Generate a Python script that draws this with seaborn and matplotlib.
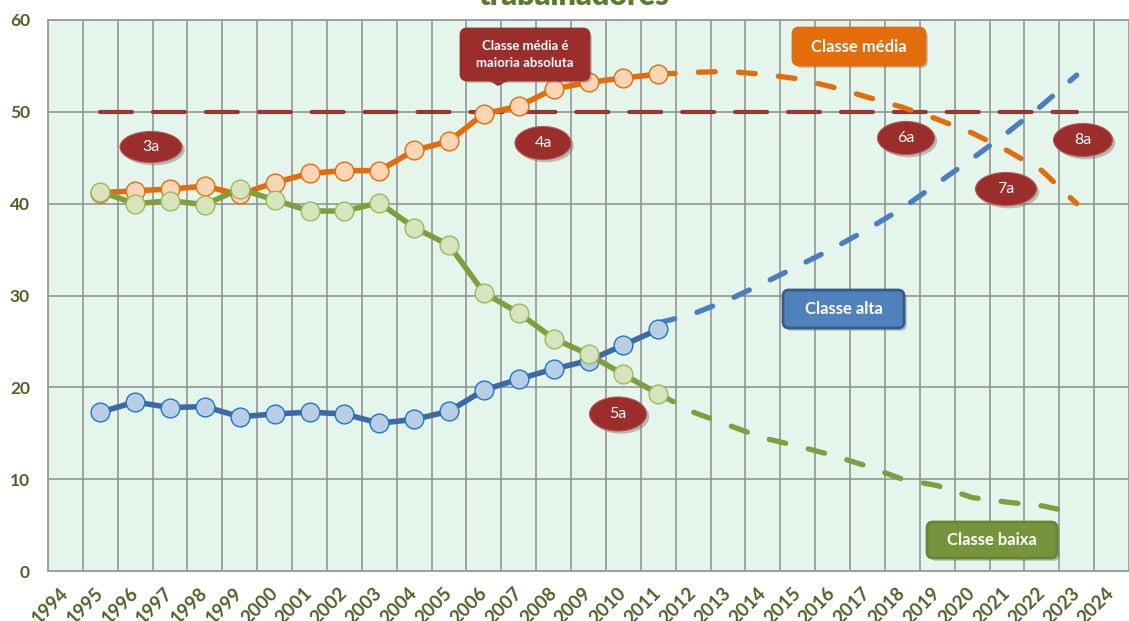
import matplotlib
matplotlib.use("Agg")
import matplotlib.pyplot as plt
import matplotlib.patheffects as pe
from matplotlib.patches import Ellipse, FancyBboxPatch, Polygon
from matplotlib.transforms import IdentityTransform
import pandas as pd
import seaborn as sns

# Categories (x axis) and series values
all_years = [1994, 1995, 1996, 1997, 1998, 1999, 2000, 2001, 2002, 2003, 2004,
             2005, 2006, 2007, 2008, 2009, 2010, 2011, 2012, 2013, 2014, 2015,
             2016, 2017, 2018, 2019, 2020, 2021, 2022, 2023, 2024]

years_hist = [1995, 1996, 1997, 1998, 1999, 2000, 2001, 2002, 2003,
              2004, 2005, 2006, 2007, 2008, 2009, 2010, 2011]
media_hist = [41.2, 41.4, 41.6, 41.9, 41.0, 42.3, 43.3, 43.6, 43.6,
              45.8, 46.8, 49.8, 50.6, 52.5, 53.2, 53.7, 54.1]
baixa_hist = [41.3, 40.0, 40.3, 39.9, 41.6, 40.4, 39.2, 39.2, 40.1,
              37.4, 35.5, 30.3, 28.1, 25.3, 23.6, 21.4, 19.3]
alta_hist = [17.3, 18.4, 17.8, 17.9, 16.8, 17.1, 17.3, 17.1, 16.1,
             16.5, 17.4, 19.7, 20.9, 22.0, 22.9, 24.6, 26.3]

years_proj = [2011, 2012, 2013, 2014, 2015, 2016, 2017,
              2018, 2019, 2020, 2021, 2022, 2023]
media_proj = [54.1, 54.3, 54.4, 54.1, 53.6, 52.7, 51.6,
              50.5, 49.2, 47.7, 45.8, 43.6, 40.0]
baixa_proj = [19.3, 17.3, 15.9, 14.5, 13.6, 12.6, 11.4,
              10.0, 9.3, 8.0, 7.5, 7.1, 6.3]
alta_proj = [27.0, 28.0, 29.5, 31.3, 33.2, 35.1, 37.2,
             39.5, 42.2, 44.9, 47.7, 50.7, 54.0]

ref_years = [1995, 2023]
ref_values = [50, 50]

hist = pd.DataFrame({"ano": years_hist, "media": media_hist,
                     "baixa": baixa_hist, "alta": alta_hist})
proj = pd.DataFrame({"ano": years_proj, "media": media_proj,
                     "baixa": baixa_proj, "alta": alta_proj})
ref = pd.DataFrame({"ano": ref_years, "valor": ref_values})

sns.set_style("white")
plt.rcParams["font.family"] = ["Lato", "DejaVu Sans"]

W, H = 1129, 621
fig = plt.figure(figsize=(W / 100, H / 100), dpi=100)
ax = fig.add_axes([48 / W, 50 / H, 1 - 48 / W, 551 / H])
ax.set_facecolor("#e4f5ec")

txt_green = "#4f6228"
orange = "#e46c0a"
green = "#7f9f3f"
blue_solid = "#3e69a6"
blue_dash = "#4a7ec0"
red = "#953735"

# reference line at 50%
sns.lineplot(data=ref, x="ano", y="valor", ax=ax, color=red, lw=3,
             linestyle=(0, (7.7, 5)), dash_capstyle="round", zorder=2)

# projections (dashed)
dash = (0, (3.2, 4.4))
sns.lineplot(data=proj, x="ano", y="media", ax=ax, color=orange, lw=3.8,
             linestyle=dash, dash_capstyle="round", zorder=3)
sns.lineplot(data=proj, x="ano", y="alta", ax=ax, color=blue_dash, lw=3.8,
             linestyle=dash, dash_capstyle="round", zorder=3)
sns.lineplot(data=proj, x="ano", y="baixa", ax=ax, color=green, lw=3.8,
             linestyle=dash, dash_capstyle="round", zorder=3)

# history (solid with markers)
sns.lineplot(data=hist, x="ano", y="media", ax=ax, color=orange, lw=4,
             marker="o", markersize=13.5, markerfacecolor="#fcd5b5",
             markeredgecolor=orange, markeredgewidth=1, zorder=4)
sns.lineplot(data=hist, x="ano", y="alta", ax=ax, color=blue_solid, lw=4,
             marker="o", markersize=13.5, markerfacecolor="#b9cde5",
             markeredgecolor="#1c78c8", markeredgewidth=1, zorder=4)
sns.lineplot(data=hist, x="ano", y="baixa", ax=ax, color=green, lw=4,
             marker="o", markersize=13.5, markerfacecolor="#d7e4bd",
             markeredgecolor="#9bbb59", markeredgewidth=1, zorder=5)

# axes
ax.set_xlim(all_years[0] - 0.5, all_years[0] - 0.5 + (W - 48) / 35.35)
ax.set_ylim(0, 60)
ax.set_xticks(all_years)
ax.set_xticklabels([str(y) for y in all_years], rotation=45, ha="right",
                   va="center", rotation_mode="anchor")
ax.set_xticks([y - 0.5 for y in all_years] + [all_years[-1] + 0.5], minor=True)
ax.set_yticks([0, 10, 20, 30, 40, 50, 60])
ax.tick_params(axis="both", which="both", length=0)
ax.tick_params(axis="x", pad=14, labelsize=13.5, labelcolor=txt_green)
ax.tick_params(axis="y", pad=13, labelsize=12.5, labelcolor=txt_green)
for lab in ax.get_xticklabels() + ax.get_yticklabels():
    lab.set_fontweight("bold")
ax.grid(which="minor", axis="x", color="#8e8e8e", lw=1.1)
ax.grid(which="major", axis="y", color="#8e8e8e", lw=1.1)
ax.set_axisbelow(True)
ax.set_xlabel("")
ax.set_ylabel("")
for side in ["top", "left", "bottom"]:
    ax.spines[side].set_color("#9a9a9a")
    ax.spines[side].set_linewidth(1.3)
ax.spines["right"].set_visible(False)

# title (cropped at the top in the reference)
fig.text(574, H - 5, "trabalhadores", transform=IdentityTransform(),
         ha="center", va="baseline", fontsize=22, fontweight="heavy",
         color="#5b7a2e")

pix = IdentityTransform()
shadow = [pe.SimplePatchShadow(offset=(2, -2), shadow_rgbFace="#777777", alpha=0.45),
          pe.Normal()]


def ellipse_label(cx, cy, w, h, text):
    e = Ellipse((cx, H - cy), w, h, transform=pix, facecolor="#9b2d2a",
                edgecolor="#b75552", lw=0.8, zorder=10)
    e.set_path_effects(shadow)
    fig.add_artist(e)
    fig.text(cx, H - cy, text, transform=pix, ha="center", va="center",
             color="white", fontsize=11.5, zorder=11)


def box_label(x0, y0, x1, y1, text, fc, ec, fs=11.5):
    b = FancyBboxPatch((x0, H - y1), x1 - x0, y1 - y0, transform=pix,
                       boxstyle="round,pad=0,rounding_size=6",
                       facecolor=fc, edgecolor=ec, lw=2, zorder=10)
    b.set_path_effects(shadow)
    fig.add_artist(b)
    fig.text((x0 + x1) / 2, H - (y0 + y1) / 2, text, transform=pix,
             ha="center", va="center", color="white", fontsize=fs,
             fontweight="bold", zorder=11, linespacing=1.45)


ellipse_label(151, 147, 62, 31, "3a")
ellipse_label(543, 143, 56, 33, "4a")
ellipse_label(618, 414, 57, 34, "5a")
ellipse_label(906, 138, 57, 33, "6a")
ellipse_label(1006, 189, 61, 33, "7a")
ellipse_label(1083, 140, 59, 33, "8a")

box_label(793, 28, 925, 65, "Classe média", orange, orange, fs=12)
box_label(783, 290, 904, 328, "Classe alta", "#4f81bd", "#375a8a", fs=12)
box_label(927, 522, 1057, 558, "Classe baixa", "#77933c", "#6a8535", fs=12)

# callout with pointer
tri = Polygon([(486, H - 79), (512, H - 79), (498, H - 86)], closed=True,
              transform=pix, facecolor="#9b2d2a", edgecolor="none", zorder=10)
fig.add_artist(tri)
box_label(461, 29, 589, 80, "Classe média é\nmaioria absoluta", "#9b2d2a",
          "#9b2d2a", fs=9.5)

fig.savefig("out.png", dpi=100)
